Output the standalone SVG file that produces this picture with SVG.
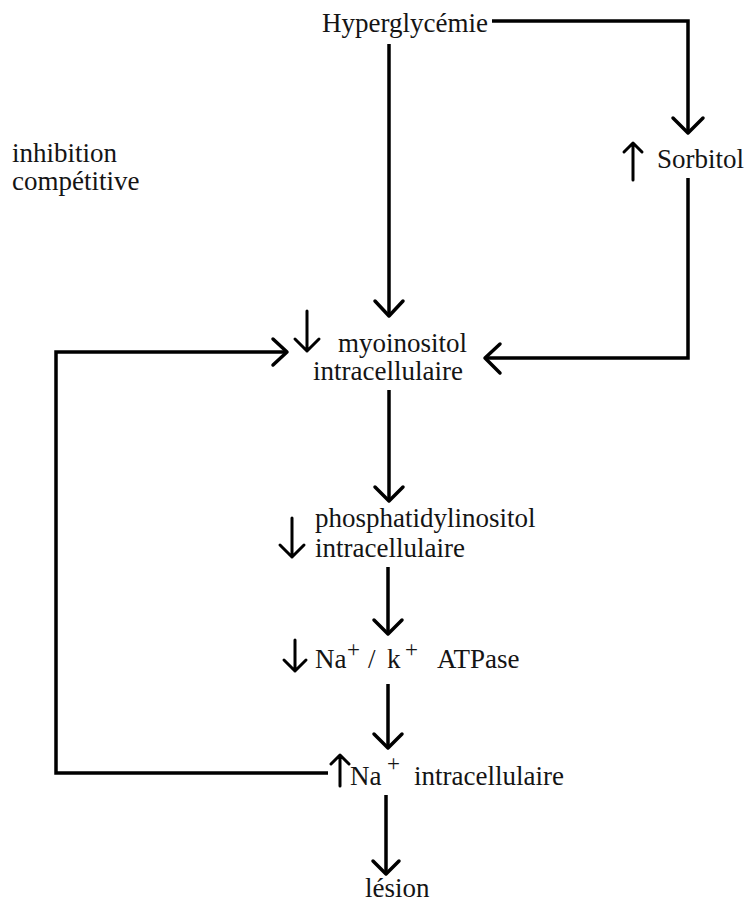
<svg xmlns="http://www.w3.org/2000/svg" width="750" height="902" viewBox="0 0 750 902">
  <style>
    .lbl { font-family: "Liberation Serif", "Times New Roman", serif; font-size: 27px; fill: #141414; }
    .sup { font-family: "Liberation Serif", "Times New Roman", serif; font-size: 23px; fill: #141414; }
    .wire { fill: none; stroke: #000; stroke-width: 3.5; stroke-linejoin: miter; }
    .head { fill: none; stroke: #000; stroke-width: 3.5; stroke-linecap: round; stroke-linejoin: round; }
    .mark { fill: none; stroke: #000; stroke-width: 3; stroke-linecap: round; stroke-linejoin: round; }
  </style>
  <rect width="750" height="902" fill="#fff"/>

  <!-- connectors -->
  <g id="connectors">
    <!-- Hyperglycémie -> Sorbitol -->
    <path class="wire" d="M492 21 H688 V133"/>
    <path class="head" d="M673 118 L688 133 L703 118"/>
    <!-- Hyperglycémie -> myoinositol -->
    <path class="wire" d="M389 44 V316"/>
    <path class="head" d="M375 301 L389 316 L403 301"/>
    <!-- Sorbitol -> myoinositol -->
    <path class="wire" d="M688 178 V358 H485"/>
    <path class="head" d="M500 344 L485 358 L500 373"/>
    <!-- feedback: Na+ intracellulaire -> myoinositol -->
    <path class="wire" d="M328 773 H56 V352 H287"/>
    <path class="head" d="M273 339 L287 352 L273 365"/>
    <!-- myoinositol -> phosphatidylinositol -->
    <path class="wire" d="M389 390 V501"/>
    <path class="head" d="M375 487 L389 501 L403 487"/>
    <!-- phosphatidylinositol -> Na+/K+ ATPase -->
    <path class="wire" d="M388 567 V634"/>
    <path class="head" d="M374 620 L388 634 L402 620"/>
    <!-- Na+/K+ ATPase -> Na+ intracellulaire -->
    <path class="wire" d="M388 684 V748"/>
    <path class="head" d="M374 734 L388 748 L402 734"/>
    <!-- Na+ intracellulaire -> lésion -->
    <path class="wire" d="M386 795 V874"/>
    <path class="head" d="M373 861 L386 874 L399 861"/>
  </g>

  <!-- nodes -->
  <g id="hyperglycemie">
    <text class="lbl" x="322" y="32">Hyperglycémie</text>
  </g>

  <g id="sorbitol">
    <path class="mark" d="M633 180 V143 M624 152 L633 143 L642 152"/>
    <text class="lbl" x="657" y="168">Sorbitol</text>
  </g>

  <g id="inhibition">
    <text class="lbl" x="12" y="162">inhibition</text>
    <text class="lbl" x="12" y="190">compétitive</text>
  </g>

  <g id="myoinositol">
    <path class="mark" d="M307 311 V351 M295 339 L307 351 L319 339"/>
    <text class="lbl" x="338" y="352">myoinositol</text>
    <text class="lbl" x="313" y="380">intracellulaire</text>
  </g>

  <g id="phosphatidylinositol">
    <path class="mark" d="M292 518 V557 M280 545 L292 557 L304 545"/>
    <text class="lbl" x="315" y="527">phosphatidylinositol</text>
    <text class="lbl" x="315" y="557">intracellulaire</text>
  </g>

  <g id="atpase">
    <path class="mark" d="M295 640 V671 M284 660 L295 671 L306 660"/>
    <text class="lbl" x="315" y="668">Na</text>
    <text class="sup" x="347" y="657">+</text>
    <text class="lbl" x="368" y="668">/</text>
    <text class="lbl" x="387" y="668">k</text>
    <text class="sup" x="405" y="657">+</text>
    <text class="lbl" x="437" y="668">ATPase</text>
  </g>

  <g id="sodium">
    <path class="mark" d="M340 786 V755 M331 764 L340 755 L349 764"/>
    <text class="lbl" x="350" y="785">Na</text>
    <text class="sup" x="387" y="771">+</text>
    <text class="lbl" x="414" y="785">intracellulaire</text>
  </g>

  <g id="lesion">
    <text class="lbl" x="365" y="897">lésion</text>
  </g>
</svg>
